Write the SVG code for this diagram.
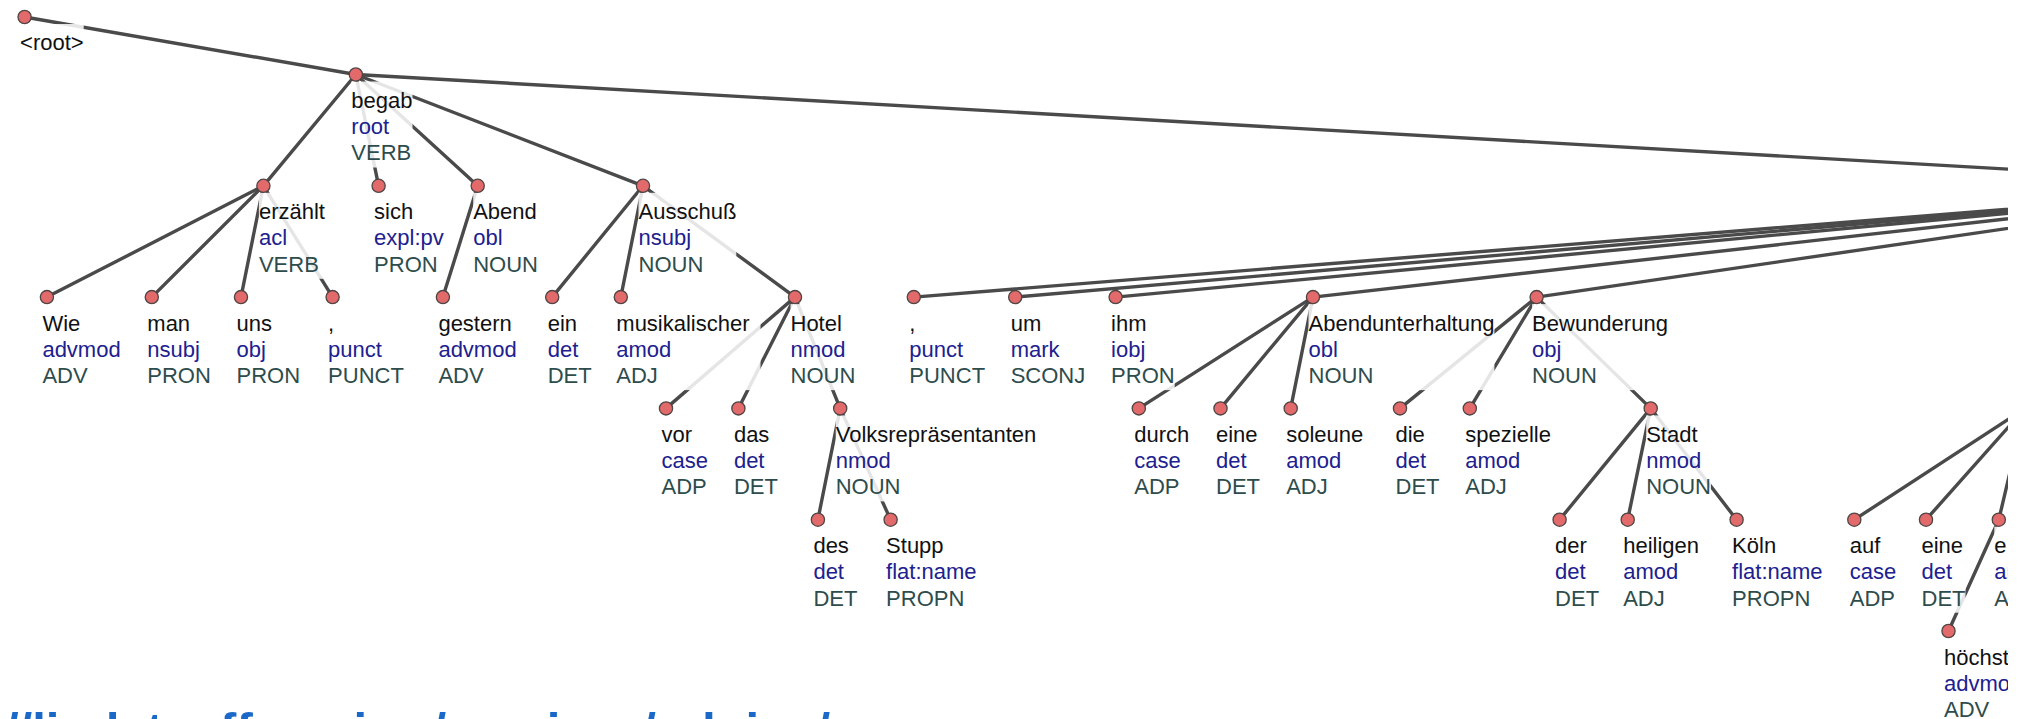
<svg xmlns="http://www.w3.org/2000/svg" width="2021" height="719" viewBox="0 0 2021 719">
<defs>
<style>
  .e line{stroke:#4a4a4a;stroke-width:3.4;stroke-linecap:round}
  .n circle{fill:#e36a6a;stroke:#4f4545;stroke-width:1.3}
  .n rect{fill:#fff;fill-opacity:.86}
  .n text{font-family:"Liberation Sans",Arial,sans-serif;font-size:22px}
  .f{fill:#111}
  .d{fill:#20208f}
  .p{fill:#2e4c4c}
  .url{font-family:"Liberation Sans",Arial,sans-serif;font-weight:bold;font-size:49px;fill:#1a68c8}
</style>
<clipPath id="view"><rect x="0" y="0" width="2008" height="719"/></clipPath>
</defs>
<rect width="2021" height="719" fill="#fff"/>
<g clip-path="url(#view)">
<!-- dependency edges, parent centre to child centre -->
<g id="edges" class="e">
  <line x1="24.6" y1="17" x2="355.8" y2="74.5"/>
  <line x1="355.8" y1="74.5" x2="263.4" y2="185.8"/>
  <line x1="355.8" y1="74.5" x2="378.6" y2="185.8"/>
  <line x1="355.8" y1="74.5" x2="477.7" y2="185.8"/>
  <line x1="355.8" y1="74.5" x2="643" y2="185.8"/>
  <line x1="355.8" y1="74.5" x2="2300" y2="185.8"/>
  <line x1="263.4" y1="185.8" x2="46.9" y2="297.1"/>
  <line x1="263.4" y1="185.8" x2="151.8" y2="297.1"/>
  <line x1="263.4" y1="185.8" x2="241" y2="297.1"/>
  <line x1="263.4" y1="185.8" x2="332.6" y2="297.1"/>
  <line x1="477.7" y1="185.8" x2="442.9" y2="297.1"/>
  <line x1="643" y1="185.8" x2="552.2" y2="297.1"/>
  <line x1="643" y1="185.8" x2="620.8" y2="297.1"/>
  <line x1="643" y1="185.8" x2="795" y2="297.1"/>
  <line x1="795" y1="297.1" x2="666" y2="408.4"/>
  <line x1="795" y1="297.1" x2="738.4" y2="408.4"/>
  <line x1="795" y1="297.1" x2="840.2" y2="408.4"/>
  <line x1="840.2" y1="408.4" x2="817.9" y2="519.7"/>
  <line x1="840.2" y1="408.4" x2="890.6" y2="519.7"/>
  <line x1="2300" y1="185.8" x2="913.8" y2="297.1"/>
  <line x1="2300" y1="185.8" x2="1015.2" y2="297.1"/>
  <line x1="2300" y1="185.8" x2="1115.6" y2="297.1"/>
  <line x1="2300" y1="185.8" x2="1313" y2="297.1"/>
  <line x1="2300" y1="185.8" x2="1536.6" y2="297.1"/>
  <line x1="1313" y1="297.1" x2="1138.8" y2="408.4"/>
  <line x1="1313" y1="297.1" x2="1220.5" y2="408.4"/>
  <line x1="1313" y1="297.1" x2="1290.7" y2="408.4"/>
  <line x1="1536.6" y1="297.1" x2="1400" y2="408.4"/>
  <line x1="1536.6" y1="297.1" x2="1469.8" y2="408.4"/>
  <line x1="1536.6" y1="297.1" x2="1650.7" y2="408.4"/>
  <line x1="1650.7" y1="408.4" x2="1559.6" y2="519.7"/>
  <line x1="1650.7" y1="408.4" x2="1627.7" y2="519.7"/>
  <line x1="1650.7" y1="408.4" x2="1736.6" y2="519.7"/>
  <line x1="2025" y1="408.4" x2="1854.3" y2="519.7"/>
  <line x1="2025" y1="408.4" x2="1926" y2="519.7"/>
  <line x1="2025" y1="408.4" x2="1998.8" y2="519.7"/>
  <line x1="1998.8" y1="519.7" x2="1948.5" y2="631"/>
</g>

<!-- tree nodes: label backdrop, labels (form / deprel / upos), dot -->
<g id="n-root" class="n" transform="translate(24.6,17)">
  <rect x="-4.5" y="7" width="63.6" height="34"/>
  <text class="f" x="-4.5" y="32.5">&lt;root&gt;</text>
  <circle r="6.6"/>
</g>
<g id="n-begab" class="n" transform="translate(355.8,74.5)">
  <rect x="-4.5" y="7" width="61.2" height="86"/>
  <text class="f" x="-4.5" y="33.5">begab</text><text class="d" x="-4.5" y="59.7">root</text><text class="p" x="-4.5" y="85.9">VERB</text>
  <circle r="6.6"/>
</g>
<g id="n-erzaehlt" class="n" transform="translate(263.4,185.8)">
  <rect x="-4.5" y="7" width="66" height="86"/>
  <text class="f" x="-4.5" y="33.5">erzählt</text><text class="d" x="-4.5" y="59.7">acl</text><text class="p" x="-4.5" y="85.9">VERB</text>
  <circle r="6.6"/>
</g>
<g id="n-sich" class="n" transform="translate(378.6,185.8)">
  <rect x="-4.5" y="7" width="69.7" height="86"/>
  <text class="f" x="-4.5" y="33.5">sich</text><text class="d" x="-4.5" y="59.7">expl:pv</text><text class="p" x="-4.5" y="85.9">PRON</text>
  <circle r="6.6"/>
</g>
<g id="n-abend" class="n" transform="translate(477.7,185.8)">
  <rect x="-4.5" y="7" width="64.8" height="86"/>
  <text class="f" x="-4.5" y="33.5">Abend</text><text class="d" x="-4.5" y="59.7">obl</text><text class="p" x="-4.5" y="85.9">NOUN</text>
  <circle r="6.6"/>
</g>
<g id="n-ausschuss" class="n" transform="translate(643,185.8)">
  <rect x="-4.5" y="7" width="97.8" height="86"/>
  <text class="f" x="-4.5" y="33.5">Ausschuß</text><text class="d" x="-4.5" y="59.7">nsubj</text><text class="p" x="-4.5" y="85.9">NOUN</text>
  <circle r="6.6"/>
</g>
<g id="n-wie" class="n" transform="translate(46.9,297.1)">
  <rect x="-4.5" y="7" width="78.3" height="86"/>
  <text class="f" x="-4.5" y="33.5">Wie</text><text class="d" x="-4.5" y="59.7">advmod</text><text class="p" x="-4.5" y="85.9">ADV</text>
  <circle r="6.6"/>
</g>
<g id="n-man" class="n" transform="translate(151.8,297.1)">
  <rect x="-4.5" y="7" width="63.6" height="86"/>
  <text class="f" x="-4.5" y="33.5">man</text><text class="d" x="-4.5" y="59.7">nsubj</text><text class="p" x="-4.5" y="85.9">PRON</text>
  <circle r="6.6"/>
</g>
<g id="n-uns" class="n" transform="translate(241,297.1)">
  <rect x="-4.5" y="7" width="63.6" height="86"/>
  <text class="f" x="-4.5" y="33.5">uns</text><text class="d" x="-4.5" y="59.7">obj</text><text class="p" x="-4.5" y="85.9">PRON</text>
  <circle r="6.6"/>
</g>
<g id="n-comma1" class="n" transform="translate(332.6,297.1)">
  <rect x="-4.5" y="7" width="75.8" height="86"/>
  <text class="f" x="-4.5" y="33.5">,</text><text class="d" x="-4.5" y="59.7">punct</text><text class="p" x="-4.5" y="85.9">PUNCT</text>
  <circle r="6.6"/>
</g>
<g id="n-gestern" class="n" transform="translate(442.9,297.1)">
  <rect x="-4.5" y="7" width="78.3" height="86"/>
  <text class="f" x="-4.5" y="33.5">gestern</text><text class="d" x="-4.5" y="59.7">advmod</text><text class="p" x="-4.5" y="85.9">ADV</text>
  <circle r="6.6"/>
</g>
<g id="n-ein" class="n" transform="translate(552.2,297.1)">
  <rect x="-4.5" y="7" width="44" height="86"/>
  <text class="f" x="-4.5" y="33.5">ein</text><text class="d" x="-4.5" y="59.7">det</text><text class="p" x="-4.5" y="85.9">DET</text>
  <circle r="6.6"/>
</g>
<g id="n-musikalischer" class="n" transform="translate(620.8,297.1)">
  <rect x="-4.5" y="7" width="144.2" height="86"/>
  <text class="f" x="-4.5" y="33.5">musikalischer</text><text class="d" x="-4.5" y="59.7">amod</text><text class="p" x="-4.5" y="85.9">ADJ</text>
  <circle r="6.6"/>
</g>
<g id="n-hotel" class="n" transform="translate(795,297.1)">
  <rect x="-4.5" y="7" width="64.8" height="86"/>
  <text class="f" x="-4.5" y="33.5">Hotel</text><text class="d" x="-4.5" y="59.7">nmod</text><text class="p" x="-4.5" y="85.9">NOUN</text>
  <circle r="6.6"/>
</g>
<g id="n-comma2" class="n" transform="translate(913.8,297.1)">
  <rect x="-4.5" y="7" width="75.8" height="86"/>
  <text class="f" x="-4.5" y="33.5">,</text><text class="d" x="-4.5" y="59.7">punct</text><text class="p" x="-4.5" y="85.9">PUNCT</text>
  <circle r="6.6"/>
</g>
<g id="n-um" class="n" transform="translate(1015.2,297.1)">
  <rect x="-4.5" y="7" width="74.6" height="86"/>
  <text class="f" x="-4.5" y="33.5">um</text><text class="d" x="-4.5" y="59.7">mark</text><text class="p" x="-4.5" y="85.9">SCONJ</text>
  <circle r="6.6"/>
</g>
<g id="n-ihm" class="n" transform="translate(1115.6,297.1)">
  <rect x="-4.5" y="7" width="63.6" height="86"/>
  <text class="f" x="-4.5" y="33.5">ihm</text><text class="d" x="-4.5" y="59.7">iobj</text><text class="p" x="-4.5" y="85.9">PRON</text>
  <circle r="6.6"/>
</g>
<g id="n-abendunterhaltung" class="n" transform="translate(1313,297.1)">
  <rect x="-4.5" y="7" width="185.9" height="86"/>
  <text class="f" x="-4.5" y="33.5">Abendunterhaltung</text><text class="d" x="-4.5" y="59.7">obl</text><text class="p" x="-4.5" y="85.9">NOUN</text>
  <circle r="6.6"/>
</g>
<g id="n-bewunderung" class="n" transform="translate(1536.6,297.1)">
  <rect x="-4.5" y="7" width="135.7" height="86"/>
  <text class="f" x="-4.5" y="33.5">Bewunderung</text><text class="d" x="-4.5" y="59.7">obj</text><text class="p" x="-4.5" y="85.9">NOUN</text>
  <circle r="6.6"/>
</g>
<g id="n-vor" class="n" transform="translate(666,408.4)">
  <rect x="-4.5" y="7" width="46.5" height="86"/>
  <text class="f" x="-4.5" y="33.5">vor</text><text class="d" x="-4.5" y="59.7">case</text><text class="p" x="-4.5" y="85.9">ADP</text>
  <circle r="6.6"/>
</g>
<g id="n-das" class="n" transform="translate(738.4,408.4)">
  <rect x="-4.5" y="7" width="44" height="86"/>
  <text class="f" x="-4.5" y="33.5">das</text><text class="d" x="-4.5" y="59.7">det</text><text class="p" x="-4.5" y="85.9">DET</text>
  <circle r="6.6"/>
</g>
<g id="n-volksrepraesentanten" class="n" transform="translate(840.2,408.4)">
  <rect x="-4.5" y="7" width="201.8" height="86"/>
  <text class="f" x="-4.5" y="33.5">Volksrepräsentanten</text><text class="d" x="-4.5" y="59.7">nmod</text><text class="p" x="-4.5" y="85.9">NOUN</text>
  <circle r="6.6"/>
</g>
<g id="n-durch" class="n" transform="translate(1138.8,408.4)">
  <rect x="-4.5" y="7" width="55" height="86"/>
  <text class="f" x="-4.5" y="33.5">durch</text><text class="d" x="-4.5" y="59.7">case</text><text class="p" x="-4.5" y="85.9">ADP</text>
  <circle r="6.6"/>
</g>
<g id="n-eine1" class="n" transform="translate(1220.5,408.4)">
  <rect x="-4.5" y="7" width="44" height="86"/>
  <text class="f" x="-4.5" y="33.5">eine</text><text class="d" x="-4.5" y="59.7">det</text><text class="p" x="-4.5" y="85.9">DET</text>
  <circle r="6.6"/>
</g>
<g id="n-soleune" class="n" transform="translate(1290.7,408.4)">
  <rect x="-4.5" y="7" width="77" height="86"/>
  <text class="f" x="-4.5" y="33.5">soleune</text><text class="d" x="-4.5" y="59.7">amod</text><text class="p" x="-4.5" y="85.9">ADJ</text>
  <circle r="6.6"/>
</g>
<g id="n-die" class="n" transform="translate(1400,408.4)">
  <rect x="-4.5" y="7" width="44" height="86"/>
  <text class="f" x="-4.5" y="33.5">die</text><text class="d" x="-4.5" y="59.7">det</text><text class="p" x="-4.5" y="85.9">DET</text>
  <circle r="6.6"/>
</g>
<g id="n-spezielle" class="n" transform="translate(1469.8,408.4)">
  <rect x="-4.5" y="7" width="85.6" height="86"/>
  <text class="f" x="-4.5" y="33.5">spezielle</text><text class="d" x="-4.5" y="59.7">amod</text><text class="p" x="-4.5" y="85.9">ADJ</text>
  <circle r="6.6"/>
</g>
<g id="n-stadt" class="n" transform="translate(1650.7,408.4)">
  <rect x="-4.5" y="7" width="64.8" height="86"/>
  <text class="f" x="-4.5" y="33.5">Stadt</text><text class="d" x="-4.5" y="59.7">nmod</text><text class="p" x="-4.5" y="85.9">NOUN</text>
  <circle r="6.6"/>
</g>
<g id="n-des" class="n" transform="translate(817.9,519.7)">
  <rect x="-4.5" y="7" width="44" height="86"/>
  <text class="f" x="-4.5" y="33.5">des</text><text class="d" x="-4.5" y="59.7">det</text><text class="p" x="-4.5" y="85.9">DET</text>
  <circle r="6.6"/>
</g>
<g id="n-stupp" class="n" transform="translate(890.6,519.7)">
  <rect x="-4.5" y="7" width="90.5" height="86"/>
  <text class="f" x="-4.5" y="33.5">Stupp</text><text class="d" x="-4.5" y="59.7">flat:name</text><text class="p" x="-4.5" y="85.9">PROPN</text>
  <circle r="6.6"/>
</g>
<g id="n-der" class="n" transform="translate(1559.6,519.7)">
  <rect x="-4.5" y="7" width="44" height="86"/>
  <text class="f" x="-4.5" y="33.5">der</text><text class="d" x="-4.5" y="59.7">det</text><text class="p" x="-4.5" y="85.9">DET</text>
  <circle r="6.6"/>
</g>
<g id="n-heiligen" class="n" transform="translate(1627.7,519.7)">
  <rect x="-4.5" y="7" width="75.8" height="86"/>
  <text class="f" x="-4.5" y="33.5">heiligen</text><text class="d" x="-4.5" y="59.7">amod</text><text class="p" x="-4.5" y="85.9">ADJ</text>
  <circle r="6.6"/>
</g>
<g id="n-koeln" class="n" transform="translate(1736.6,519.7)">
  <rect x="-4.5" y="7" width="90.5" height="86"/>
  <text class="f" x="-4.5" y="33.5">Köln</text><text class="d" x="-4.5" y="59.7">flat:name</text><text class="p" x="-4.5" y="85.9">PROPN</text>
  <circle r="6.6"/>
</g>
<g id="n-auf" class="n" transform="translate(1854.3,519.7)">
  <rect x="-4.5" y="7" width="46.5" height="86"/>
  <text class="f" x="-4.5" y="33.5">auf</text><text class="d" x="-4.5" y="59.7">case</text><text class="p" x="-4.5" y="85.9">ADP</text>
  <circle r="6.6"/>
</g>
<g id="n-eine2" class="n" transform="translate(1926,519.7)">
  <rect x="-4.5" y="7" width="44" height="86"/>
  <text class="f" x="-4.5" y="33.5">eine</text><text class="d" x="-4.5" y="59.7">det</text><text class="p" x="-4.5" y="85.9">DET</text>
  <circle r="6.6"/>
</g>
<g id="n-e" class="n" transform="translate(1998.8,519.7)">
  <rect x="-4.5" y="7" width="55" height="86"/>
  <text class="f" x="-4.5" y="33.5">e</text><text class="d" x="-4.5" y="59.7">amod</text><text class="p" x="-4.5" y="85.9">ADJ</text>
  <circle r="6.6"/>
</g>
<g id="n-hoechst" class="n" transform="translate(1948.5,631)">
  <rect x="-4.5" y="7" width="78.3" height="86"/>
  <text class="f" x="-4.5" y="33.5">höchst</text><text class="d" x="-4.5" y="59.7">advmod</text><text class="p" x="-4.5" y="85.9">ADV</text>
  <circle r="6.6"/>
</g>
</g>

<text class="url" x="5" y="747">//lindat.mff.cuni.cz/services/udpipe/</text>
</svg>
